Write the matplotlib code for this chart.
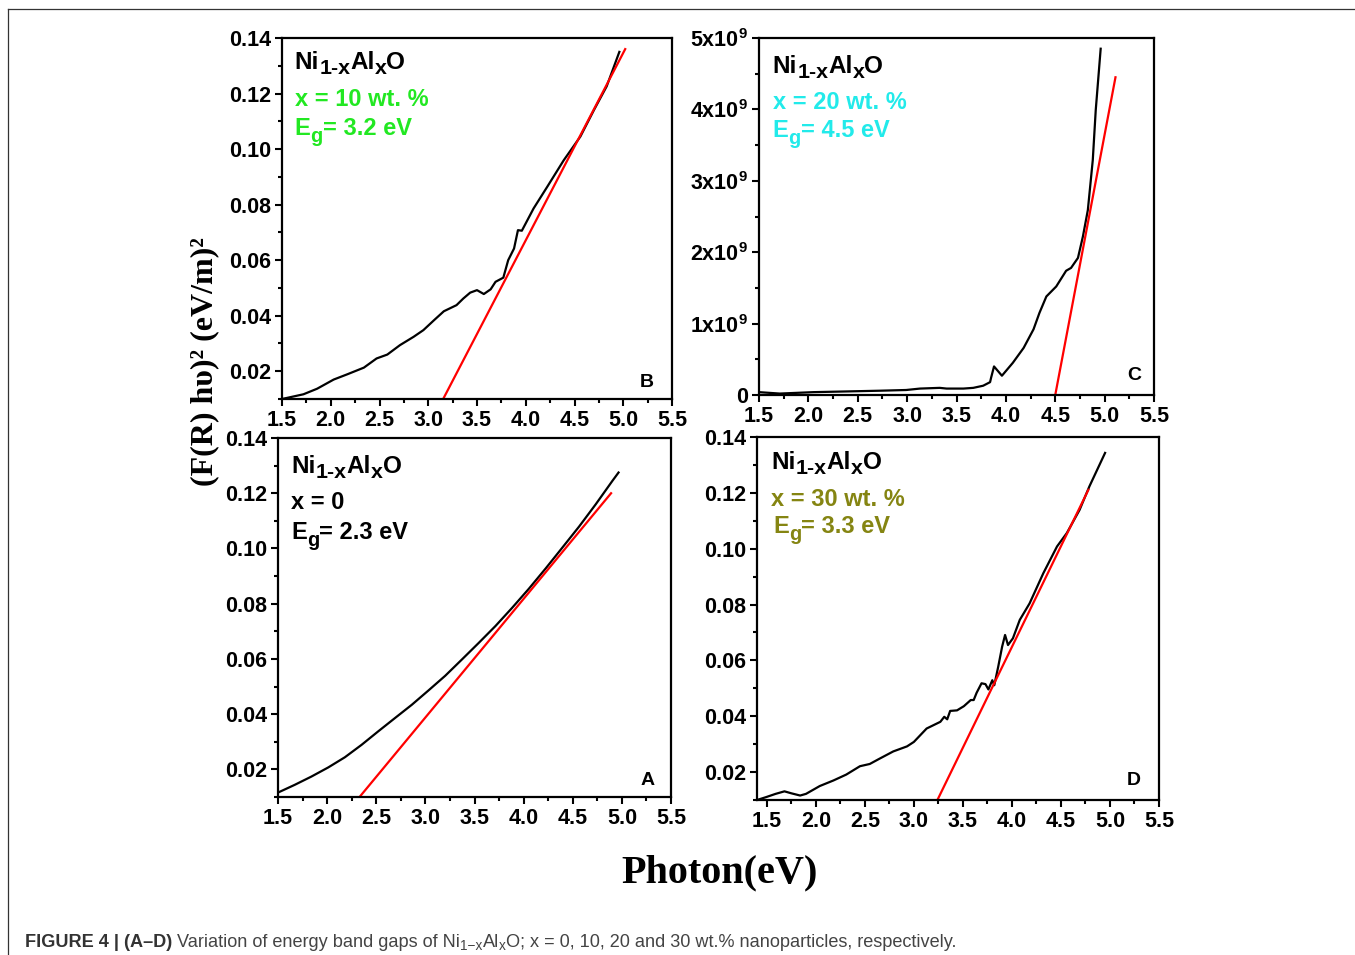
import matplotlib
matplotlib.use('Agg')
import matplotlib.pyplot as plt
from matplotlib.lines import Line2D
from matplotlib.ticker import MultipleLocator, FormatStrFormatter

plt.rcParams['font.family'] = ['Liberation Sans', 'DejaVu Sans']
plt.rcParams['mathtext.default'] = 'regular'

# ---- data ----
# panel B: x = 10 wt.%
b_x = [1.50, 1.72, 1.86, 2.03, 2.17, 2.34, 2.47, 2.58, 2.71, 2.85, 2.95, 3.06, 3.16,
       3.29, 3.36, 3.43, 3.50, 3.57, 3.64, 3.69, 3.77, 3.82, 3.88, 3.92, 3.96, 4.08,
       4.22, 4.39, 4.56, 4.70, 4.83, 4.96]
b_y = [0.0100, 0.0117, 0.0137, 0.0170, 0.0189, 0.0213, 0.0246, 0.0260, 0.0294, 0.0324,
       0.0348, 0.0384, 0.0416, 0.0438, 0.0462, 0.0483, 0.0492, 0.0478, 0.0495, 0.0522,
       0.0537, 0.0600, 0.0642, 0.0708, 0.0706, 0.0786, 0.0864, 0.0960, 0.1045, 0.1141,
       0.1226, 0.1350]
b_fit_x = [3.15, 5.02]
b_fit_y = [0.0098, 0.1360]

# panel C: x = 20 wt.%
c_x = [1.50, 1.71, 2.05, 2.39, 2.72, 2.99, 3.13, 3.33, 3.40, 3.57, 3.67, 3.77, 3.84,
       3.85, 3.88, 3.96, 4.07, 4.18, 4.28, 4.34, 4.41, 4.51, 4.61, 4.66, 4.73, 4.78,
       4.83, 4.88, 4.91, 4.96]
c_y = [0.04e9, 0.02e9, 0.04e9, 0.05e9, 0.06e9, 0.07e9, 0.09e9, 0.10e9, 0.09e9, 0.09e9,
       0.10e9, 0.13e9, 0.18e9, 0.24e9, 0.40e9, 0.27e9, 0.45e9, 0.66e9, 0.92e9, 1.15e9,
       1.38e9, 1.52e9, 1.74e9, 1.78e9, 1.92e9, 2.22e9, 2.59e9, 3.29e9, 3.99e9, 4.85e9]
c_fit_x = [4.50, 5.11]
c_fit_y = [0.0, 4.45e9]
c_ticks = [0, 1e9, 2e9, 3e9, 4e9, 5e9]
c_ticklabels = ['0', '1x10$^{9}$', '2x10$^{9}$', '3x10$^{9}$', '4x10$^{9}$', '5x10$^{9}$']

# panel A: x = 0
a_x = [1.500, 1.670, 1.840, 2.011, 2.181, 2.351, 2.521, 2.691, 2.862, 3.032, 3.202,
       3.372, 3.543, 3.713, 3.883, 4.053, 4.223, 4.394, 4.564, 4.734, 4.904, 4.966]
a_y = [0.0116, 0.0144, 0.0174, 0.0207, 0.0244, 0.0289, 0.0338, 0.0386, 0.0434, 0.0486,
       0.0539, 0.0598, 0.0658, 0.0719, 0.0785, 0.0854, 0.0927, 0.1003, 0.1079, 0.1160,
       0.1245, 0.1275]
a_fit_x = [2.33, 4.89]
a_fit_y = [0.0100, 0.1200]

# panel D: x = 30 wt.%
d_x = [1.40, 1.49, 1.59, 1.68, 1.75, 1.84, 1.90, 2.04, 2.18, 2.31, 2.45, 2.55, 2.65,
       2.79, 2.93, 3.00, 3.13, 3.27, 3.31, 3.34, 3.37, 3.44, 3.51, 3.58, 3.61, 3.64,
       3.69, 3.73, 3.76, 3.80, 3.82, 3.86, 3.90, 3.93, 3.96, 4.01, 4.08, 4.18, 4.32,
       4.46, 4.56, 4.69, 4.79, 4.95]
d_y = [0.0100, 0.0110, 0.0122, 0.0131, 0.0124, 0.0116, 0.0122, 0.0150, 0.0170, 0.0191,
       0.0221, 0.0229, 0.0248, 0.0274, 0.0292, 0.0308, 0.0356, 0.0380, 0.0398, 0.0389,
       0.0419, 0.0421, 0.0436, 0.0458, 0.0458, 0.0484, 0.0518, 0.0515, 0.0496, 0.0529,
       0.0511, 0.0577, 0.0649, 0.0691, 0.0655, 0.0679, 0.0745, 0.0804, 0.0912, 0.1008,
       0.1056, 0.1139, 0.1223, 0.1343]
d_fit_x = [3.24, 4.78]
d_fit_y = [0.0100, 0.1211]

W, H = 1355, 955
fig = plt.figure(figsize=(W / 100, H / 100), dpi=100)
renderer = fig.canvas.get_renderer()


def px_axes(left, right, top, bottom):
    return fig.add_axes([left / W, (H - bottom) / H, (right - left) / W, (bottom - top) / H])


def rich(x0, y0, pieces, size, color, weight='bold'):
    # pieces: (text, scale, baseline shift in px); x0, y0 in display px
    for txt, sc, dy in pieces:
        t = fig.text(x0 / W, (y0 + dy) / H, txt, fontsize=size * sc, color=color,
                     fontweight=weight, va='baseline', ha='left')
        x0 = t.get_window_extent(renderer).x1


def style(ax, xlim, ylim):
    ax.set_xlim(*xlim)
    ax.set_ylim(*ylim)
    ax.xaxis.set_major_locator(MultipleLocator(0.5))
    ax.xaxis.set_minor_locator(MultipleLocator(0.25))
    ax.xaxis.set_major_formatter(FormatStrFormatter('%.1f'))
    ax.tick_params(which='both', direction='out', width=1.5, top=False, right=False)
    ax.tick_params(which='major', length=5, labelsize=15.5, pad=3)
    ax.tick_params(which='minor', length=3)
    for lab in ax.get_xticklabels() + ax.get_yticklabels():
        lab.set_fontweight('bold')
    for sp in ax.spines.values():
        sp.set_linewidth(1.6)


def labels(ax, col, line2, eg, xs, ys, letter, lpos):
    tr = ax.transAxes
    x, y = tr.transform((xs[0], ys[0]))
    rich(x, y, [('Ni', 1, 0), ('1-x', 0.88, -5), ('Al', 1, 0), ('x', 0.88, -5),
                ('O', 1, 0)], 17.5, 'black')
    x, y = tr.transform((xs[1], ys[1]))
    rich(x, y, [(line2, 1, 0)], 17, col)
    x, y = tr.transform((xs[2], ys[2]))
    rich(x, y, [('E', 1, 0), ('g', 0.85, -7), ('= ' + eg, 1, 0)], 17, col)
    ax.text(lpos[0], lpos[1], letter, transform=tr,
            fontsize=14, fontweight='bold', ha='center', va='center')


def set_yfmt(ax):
    ax.yaxis.set_major_locator(MultipleLocator(0.02))
    ax.yaxis.set_minor_locator(MultipleLocator(0.01))
    ax.yaxis.set_major_formatter(FormatStrFormatter('%.2f'))


# B (top left)
axB = px_axes(282, 672, 38, 399)
axB.plot(b_x, b_y, color='black', lw=1.6)
axB.plot(b_fit_x, b_fit_y, color='red', lw=1.6)
set_yfmt(axB)
style(axB, (1.5, 5.5), (0.01, 0.14))

# C (top right)
axC = px_axes(759, 1154, 38, 395)
axC.plot(c_x, c_y, color='black', lw=1.6)
axC.plot(c_fit_x, c_fit_y, color='red', lw=1.6)
axC.set_yticks(c_ticks)
axC.set_yticklabels(c_ticklabels)
axC.yaxis.set_minor_locator(MultipleLocator(0.5e9))
style(axC, (1.5, 5.5), (0, 5e9))

# A (bottom left)
axA = px_axes(278, 671, 438, 797)
axA.plot(a_x, a_y, color='black', lw=1.6)
axA.plot(a_fit_x, a_fit_y, color='red', lw=1.6)
set_yfmt(axA)
style(axA, (1.5, 5.5), (0.01, 0.14))

# D (bottom right)
axD = px_axes(757, 1159, 437, 800)
axD.plot(d_x, d_y, color='black', lw=1.6)
axD.plot(d_fit_x, d_fit_y, color='red', lw=1.6)
set_yfmt(axD)
style(axD, (1.4, 5.5), (0.01, 0.14))

labels(axB, '#22e822', 'x = 10 wt. %', '3.2 eV',
       (0.033, 0.033, 0.033), (0.914, 0.812, 0.731), 'B', (0.936, 0.047))
labels(axC, '#22eaea', 'x = 20 wt. %', '4.5 eV',
       (0.035, 0.035, 0.035), (0.902, 0.801, 0.723), 'C', (0.949, 0.056))
labels(axA, 'black', 'x = 0', '2.3 eV',
       (0.033, 0.033, 0.033), (0.903, 0.802, 0.719), 'A', (0.941, 0.047))
labels(axD, '#858512', 'x = 30 wt. %', '3.3 eV',
       (0.035, 0.035, 0.04), (0.912, 0.810, 0.736), 'D', (0.938, 0.055))

# shared axis labels
fig.text(205 / W, (H - 362) / H, '(F(R) h\u03c5)\u00b2 (eV/m)\u00b2', rotation=90,
         ha='center', va='center', fontsize=23, fontweight='bold',
         family=['Liberation Serif', 'DejaVu Serif'])
fig.text(720 / W, (H - 873) / H, 'Photon(eV)', ha='center', va='center',
         fontsize=29, fontweight='bold', family=['Liberation Serif', 'DejaVu Serif'])

# page frame
fig.add_artist(Line2D([8 / W, 8 / W], [0, (H - 9) / H], transform=fig.transFigure,
                      color='#333333', lw=0.9))
fig.add_artist(Line2D([8 / W, 1], [(H - 9) / H, (H - 9) / H], transform=fig.transFigure,
                      color='#333333', lw=0.9))

# caption
t1 = fig.text(25 / W, 8 / H, 'FIGURE 4 | (A\u2013D)', fontsize=13.1,
              fontweight='bold', color='#333333', va='baseline')
x1 = t1.get_window_extent(renderer).x1 + 5
rich(x1, 8, [('Variation of energy band gaps of Ni', 1, 0), ('1\u2212x', 0.75, -3),
             ('Al', 1, 0), ('x', 0.75, -3),
             ('O; x = 0, 10, 20 and 30 wt.% nanoparticles, respectively.', 1, 0)],
     13.1, '#444444', weight='normal')

fig.savefig('out.png', dpi=100)
